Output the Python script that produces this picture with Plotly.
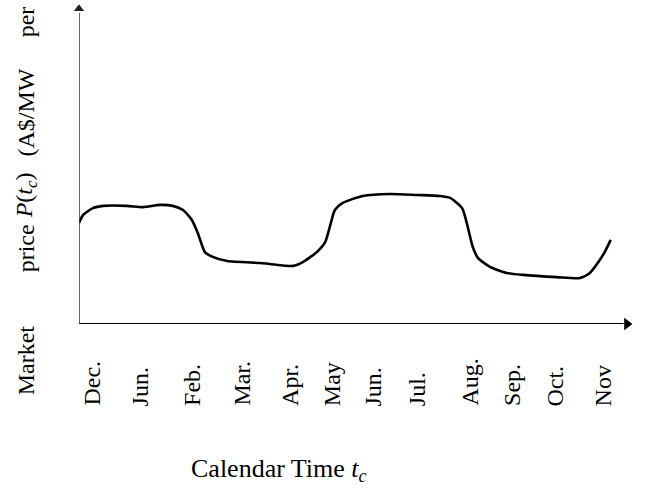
import plotly.graph_objects as go

# Tick labels (months) and where they sit on the calendar-time axis (month units)
months = ["Dec.", "Jun.", "Feb.", "Mar.", "Apr.", "May", "Jun.", "Jul.", "Aug.", "Sep.", "Oct.", "Nov"]
month_pos = [0, 1.03, 2.15, 3.23, 4.26, 5.17, 6.05, 7.0, 8.14, 9.04, 9.97, 11.0]

# Curve: x in month units, y in arbitrary price units (0-100 axis)
curve_t = [-0.28, -0.19, 0.02, 0.24, 0.75, 1.10, 1.46, 1.74, 1.96, 2.15, 2.28, 2.43, 2.60, 2.91,
           3.62, 3.83, 4.33, 4.54, 4.84, 5.02, 5.12, 5.23, 5.40, 5.83, 6.42, 7.00, 7.49, 7.71,
           7.97, 8.07, 8.20, 8.31, 8.57, 8.93, 9.28, 10.01, 10.51, 10.72, 10.89, 11.04, 11.17]
curve_p = [31.5, 34.0, 36.1, 36.8, 36.8, 36.4, 37.1, 36.8, 35.5, 32.4, 28.3, 22.4, 20.9, 19.6,
           19.0, 18.7, 18.1, 19.3, 22.4, 25.5, 30.2, 35.5, 37.7, 39.9, 40.5, 40.2, 39.9, 39.3,
           36.1, 31.5, 24.0, 20.6, 17.8, 15.9, 15.3, 14.6, 14.3, 15.9, 19.0, 22.4, 26.2]

x_title = "Calendar Time <i>t<sub>c</sub></i>"
y_words = ["Market", "price", "<i>P</i>(<i>t<sub>c</sub></i>)", "(A$/MW", "per"]

XMIN, XMAX = -0.28, 11.65
YMIN, YMAX = 0, 100

FONT = "Liberation Serif, Times New Roman, serif"

fig = go.Figure()
fig.add_trace(go.Scatter(x=curve_t, y=curve_p, mode="lines",
                         line=dict(color="black", width=2.6, shape="spline", smoothing=0.6),
                         hoverinfo="skip", showlegend=False))

# axis lines (x axis black & heavier, y axis dark grey & thinner)
fig.add_shape(type="line", xref="x", yref="y", x0=XMIN, y0=YMIN, x1=XMAX - 0.2, y1=YMIN,
              line=dict(color="black", width=2.2), layer="above")
fig.add_shape(type="line", xref="x", yref="y", x0=XMIN, y0=YMIN, x1=XMIN, y1=YMAX - 3,
              line=dict(color="#333", width=1.5), layer="above")

# arrowheads at the ends of both axes
fig.add_trace(go.Scatter(x=[XMAX - 0.13], y=[YMIN], mode="markers",
                         marker=dict(symbol="triangle-right", size=11, color="black"),
                         cliponaxis=False, hoverinfo="skip", showlegend=False))
fig.add_trace(go.Scatter(x=[XMIN], y=[YMAX - 1.8], mode="markers",
                         marker=dict(symbol="triangle-up", size=9, color="#222"),
                         cliponaxis=False, hoverinfo="skip", showlegend=False))

annotations = []
# month labels, rotated, start-aligned at the bottom
for m, pos in zip(months, month_pos):
    annotations.append(dict(x=pos, y=-0.262, xref="x", yref="paper", text=m, textangle=-90,
                            showarrow=False, xanchor="center", yanchor="bottom",
                            font=dict(family=FONT, size=24, color="black")))

# x title
annotations.append(dict(x=0.198, y=-0.455, xref="paper", yref="paper", text=x_title,
                        showarrow=False, xanchor="left", yanchor="middle",
                        font=dict(family=FONT, size=26, color="black")))

# y title words spread along the left edge (justified look)
y_word_pos = [-0.112, 0.237, 0.402, 0.660, 0.941]
for w, yp in zip(y_words, y_word_pos):
    annotations.append(dict(x=-0.095, y=yp, xref="paper", yref="paper", text=w, textangle=-90,
                            showarrow=False, xanchor="center", yanchor="middle",
                            font=dict(family=FONT, size=24, color="black")))

fig.update_layout(
    width=646, height=488,
    margin=dict(l=79, r=13, t=3, b=164, autoexpand=False),
    paper_bgcolor="white", plot_bgcolor="white",
    xaxis=dict(range=[XMIN, XMAX], visible=False, fixedrange=True),
    yaxis=dict(range=[YMIN, YMAX], visible=False, fixedrange=True),
    annotations=annotations,
    showlegend=False,
)

fig.write_html("out.html", config={"displayModeBar": False},
               post_script="document.body.style.margin='0';document.body.style.overflow='hidden';")
